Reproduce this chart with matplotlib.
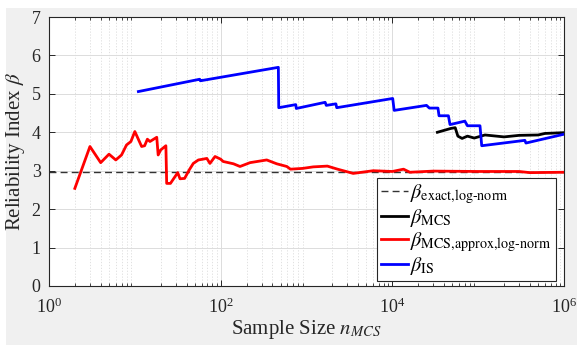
import matplotlib
matplotlib.use("Agg")
import matplotlib.pyplot as plt
from matplotlib.patches import Rectangle
from matplotlib.ticker import LogLocator, LogFormatterMathtext, NullFormatter

plt.rcParams['font.family'] = ['Liberation Serif', 'DejaVu Serif']
plt.rcParams['mathtext.fontset'] = 'stix'

# ---- data ----
beta_exact = 2.97

n_approx = [2, 3, 4, 5, 6, 7, 8, 9, 10, 12, 13, 14, 15, 18, 18.7, 20, 23, 23.5, 26,
            31.6, 33.6, 38, 43, 48, 55, 62, 69, 75, 86, 100, 107, 141, 168, 220,
            344, 450, 590, 650, 900, 1200, 1750, 2300, 3500, 6000, 10000, 13500,
            16000, 30000, 100000, 300000, 400000, 1000000]
beta_approx = [2.54, 3.63, 3.21, 3.43, 3.28, 3.41, 3.67, 3.76, 4.02, 3.63, 3.65, 3.82,
               3.76, 3.87, 3.41, 3.54, 3.65, 2.67, 2.67, 2.95, 2.79, 2.80, 3.02, 3.19,
               3.28, 3.30, 3.32, 3.19, 3.37, 3.30, 3.24, 3.18, 3.11, 3.21, 3.28, 3.18,
               3.11, 3.04, 3.06, 3.10, 3.12, 3.04, 2.93, 3.00, 2.98, 3.04, 2.96, 2.99,
               2.98, 2.98, 2.95, 2.96]

n_is = [11, 57, 58, 470, 475, 750, 760, 1650, 1700, 2200, 2250, 10100, 10500, 25000,
        27000, 34000, 35000, 45000, 47000, 70000, 75000, 105000, 110000, 350000,
        360000, 1000000]
beta_is = [5.06, 5.38, 5.34, 5.69, 4.64, 4.72, 4.62, 4.78, 4.70, 4.74, 4.64, 4.88, 4.57,
           4.70, 4.63, 4.63, 4.43, 4.43, 4.20, 4.29, 4.17, 4.17, 3.65, 3.79, 3.72, 3.95]

n_mcs = [33500, 48000, 54000, 58000, 65000, 75000, 90000, 120000, 200000, 300000,
         500000, 600000, 1000000]
beta_mcs = [4.00, 4.10, 4.12, 3.90, 3.84, 3.90, 3.85, 3.93, 3.88, 3.92, 3.93, 3.97, 3.99]

x_limits = [1, 1e6]
x_ticks = [1, 1e2, 1e4, 1e6]
y_ticks = [0, 1, 2, 3, 4, 5, 6, 7]

labels = [r'$\beta_{\mathrm{exact{,}log\text{-}norm}}$',
          r'$\beta_{\mathrm{MCS}}$',
          r'$\beta_{\mathrm{MCS{,}approx{,}log\text{-}norm}}$',
          r'$\beta_{\mathrm{IS}}$']

# ---- figure ----
W, H = 577, 347
fig = plt.figure(figsize=(W / 100, H / 100), dpi=100)
fig.patch.set_facecolor('white')
fig.patches.append(Rectangle((6 / W, 0.005), 1 - 6 / W, 1 - 8 / H - 0.005,
                             transform=fig.transFigure, facecolor='#f0f0f0',
                             edgecolor='none', zorder=-10))

ax = fig.add_axes([49 / W, 1 - 286 / H, (564 - 49) / W, (286 - 17) / H])
ax.set_facecolor('white')

dark = '#262626'
ax.plot(x_limits, [beta_exact, beta_exact], '--', color='#333333', lw=1.0,
        dashes=(5, 3), label=labels[0])
ax.plot(n_mcs, beta_mcs, color='black', lw=2.0, label=labels[1])
ax.plot(n_approx, beta_approx, color='#ff0000', lw=2.0, label=labels[2])
ax.plot(n_is, beta_is, color='#0000ff', lw=2.0, label=labels[3])

ax.set_xscale('log')
ax.set_xlim(x_limits)
ax.set_ylim(0, 7)
ax.set_yticks(y_ticks)
ax.set_xticks(x_ticks)
ax.xaxis.set_major_formatter(LogFormatterMathtext())
ax.xaxis.set_minor_locator(LogLocator(base=10, subs=range(2, 10), numticks=20))
ax.xaxis.set_minor_formatter(NullFormatter())

ax.grid(True, which='major', color='#dcdcdc', lw=0.7)
ax.grid(True, which='minor', axis='x', color='#dcdcdc', lw=0.6, ls=(0, (1.5, 2)))
ax.set_axisbelow(True)

ax.tick_params(which='both', direction='in', top=True, right=True, colors=dark,
               labelsize=13)
ax.tick_params(which='major', length=4, width=0.7)
ax.tick_params(which='minor', length=2.5, width=0.6)
ax.tick_params(axis='x', which='major', pad=8)
ax.tick_params(axis='y', which='major', pad=6)
for s in ax.spines.values():
    s.set_color(dark)
    s.set_linewidth(0.8)

ax.set_xlabel(r'Sample Size $n_{MCS}$', fontsize=15, color=dark, labelpad=1)
ax.set_ylabel(r'Reliability Index $\beta$', fontsize=15, color=dark, labelpad=3)

leg = ax.legend(loc='lower right', bbox_to_anchor=(0.984, 0.019), fontsize=14.5,
                frameon=True, fancybox=False, framealpha=1, edgecolor=dark,
                handlelength=1.35, handletextpad=0.1, borderpad=0.2,
                labelspacing=0.05, borderaxespad=0)
leg.get_frame().set_linewidth(0.8)

fig.savefig('out.png', dpi=100, facecolor=fig.get_facecolor())
